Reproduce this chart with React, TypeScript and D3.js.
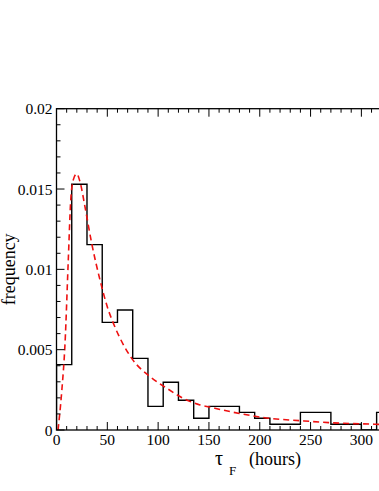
import React from "react";
import * as d3 from "d3";

// histogram of tau_F, bins 15 hours wide
const binEdges = [0, 15, 30, 45, 60, 75, 90, 105, 120, 135, 150, 165, 180, 195, 210, 225, 240, 255, 270, 285, 300, 315, 330];
const binFreq = [0.00407, 0.0153, 0.01154, 0.0067, 0.00747, 0.00446, 0.00147, 0.00297, 0.00185, 0.00073, 0.00147, 0.00147, 0.0011, 0.00073, 0.00036, 0.00036, 0.0011, 0.0011, 0.00036, 0.00036, 0, 0.0011];

// fitted curve (red dashed)
const fitX = [1.5, 5, 8.4, 11.6, 14, 16.5, 19.9, 23.1, 28, 34.6, 42.8, 51, 56, 74, 92, 108.5, 124.8, 141.2, 149, 180, 209, 240, 268, 313.5, 340];
const fitY = [0, 0.00228, 0.0054, 0.01058, 0.0143, 0.01557, 0.01594, 0.01546, 0.0139, 0.01163, 0.00934, 0.00747, 0.00664, 0.00446, 0.00332, 0.0026, 0.00197, 0.00156, 0.00145, 0.00103, 0.00073, 0.00058, 0.00046, 0.00036, 0.00031];

const xMajor = [0, 50, 100, 150, 200, 250, 300, 350, 400];
const xLabels = ["0", "50", "100", "150", "200", "250", "300"];
const yMajor = [0, 0.005, 0.01, 0.015, 0.02];
const yLabels = ["0", "0.005", "0.01", "0.015", "0.02"];

const W = 379, H = 491;
const left = 56.5, top = 108.7, bottom = 430, right = 463;

export default function App() {
  const x = d3.scaleLinear().domain([0, 400]).range([left, right]);
  const y = d3.scaleLinear().domain([0, 0.02]).range([bottom, top]);

  const xMinor = d3.range(0, 401, 10).filter(v => v % 50 !== 0);
  const yMinor = d3.range(0, 0.0201, 0.001).filter((_, i) => i % 5 !== 0);

  const stepPts: [number, number][] = [[0, 0]];
  binFreq.forEach((f, i) => {
    stepPts.push([binEdges[i], f]);
    stepPts.push([binEdges[i + 1], f]);
  });
  const line = d3.line<[number, number]>().x(d => x(d[0])).y(d => y(d[1]));
  const fitLine = d3.line<number>().x((_, i) => x(fitX[i])).y(d => y(d)).curve(d3.curveMonotoneX);

  const font = "'Liberation Serif', 'Times New Roman', serif";
  const ink = "#000";

  return (
    <svg width={W} height={H} style={{ position: "absolute", left: 0, top: 0, background: "#fff" }}>
      <defs>
        <clipPath id="plot">
          <rect x={left} y={top} width={right - left} height={bottom - top} />
        </clipPath>
      </defs>
      <rect width={W} height={H} fill="#fff" />

      <g clipPath="url(#plot)">
        <path d={line(stepPts) || ""} fill="none" stroke={ink} strokeWidth={1.4} />
        <path d={fitLine(fitY) || ""} fill="none" stroke="#ee1111" strokeWidth={1.6} strokeDasharray="6,4" />
      </g>

      {/* frame */}
      <rect x={left} y={top} width={right - left} height={bottom - top} fill="none" stroke={ink} strokeWidth={1.3} />

      {/* x ticks, bottom and top, pointing inward */}
      {xMajor.map(v => (
        <g key={"xM" + v}>
          <line x1={x(v)} x2={x(v)} y1={bottom} y2={bottom - 8} stroke={ink} />
          <line x1={x(v)} x2={x(v)} y1={top} y2={top + 8} stroke={ink} />
        </g>
      ))}
      {xLabels.map((t, i) => (
        <text key={"xl" + i} x={x(xMajor[i])} y={445} textAnchor="middle" fontFamily={font} fontSize={15.5}>{t}</text>
      ))}
      {xMinor.map(v => (
        <g key={"xm" + v}>
          <line x1={x(v)} x2={x(v)} y1={bottom} y2={bottom - 4} stroke={ink} />
          <line x1={x(v)} x2={x(v)} y1={top} y2={top + 4} stroke={ink} />
        </g>
      ))}

      {/* y ticks */}
      {yMajor.map((v, i) => (
        <g key={"yM" + i}>
          <line x1={left} x2={left + 8} y1={y(v)} y2={y(v)} stroke={ink} />
          <text x={left - 4} y={y(v) + 5.5} textAnchor="end" fontFamily={font} fontSize={15.5}>{yLabels[i]}</text>
        </g>
      ))}
      {yMinor.map((v, i) => (
        <line key={"ym" + i} x1={left} x2={left + 4} y1={y(v)} y2={y(v)} stroke={ink} />
      ))}

      {/* axis titles */}
      <text transform={`translate(15,${(top + bottom) / 2}) rotate(-90)`} textAnchor="middle" fontFamily={font} fontSize={18}>frequency</text>
      <text x={215} y={465} fontFamily={font} fontSize={20}>τ</text>
      <text x={229} y={475} fontFamily={font} fontSize={13}>F</text>
      <text x={249} y={465} fontFamily={font} fontSize={18}>(hours)</text>
    </svg>
  );
}
